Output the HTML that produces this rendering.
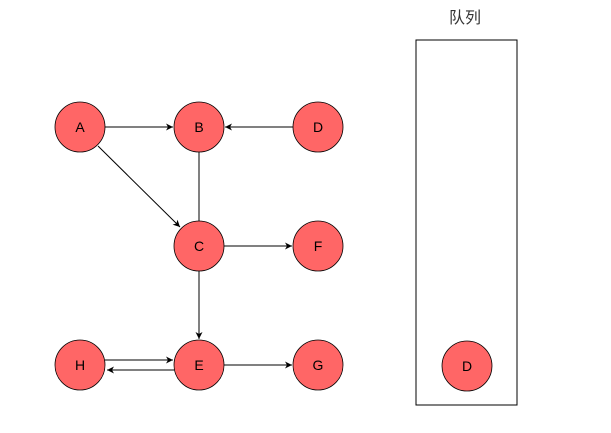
<!DOCTYPE html>
<html><head><meta charset="utf-8"><style>body{margin:0;background:#fff}</style></head><body>
<svg width="611" height="428" xmlns="http://www.w3.org/2000/svg" font-family="'Liberation Sans', sans-serif">
<defs><marker id="a" markerWidth="8" markerHeight="8" refX="7" refY="4" orient="auto" markerUnits="userSpaceOnUse"><path d="M0,0.5 L7,4 L0,7.5 L2,4 Z" fill="#000"/></marker></defs>
<g stroke="#000" stroke-width="1" fill="none">
<line x1="105" y1="127" x2="173" y2="127" marker-end="url(#a)"/>
<line x1="293" y1="127" x2="225" y2="127" marker-end="url(#a)"/>
<line x1="199" y1="152" x2="199" y2="221"/>
<line x1="98" y1="146" x2="180" y2="227" marker-end="url(#a)"/>
<line x1="224" y1="246" x2="292" y2="246" marker-end="url(#a)"/>
<line x1="199" y1="271" x2="199" y2="339" marker-end="url(#a)"/>
<line x1="105" y1="360" x2="173" y2="360" marker-end="url(#a)"/>
<line x1="174" y1="370" x2="107" y2="370" marker-end="url(#a)"/>
<line x1="224" y1="365" x2="292" y2="365" marker-end="url(#a)"/>
<rect x="416" y="40" width="101" height="365" stroke="#000"/>
</g>
<g fill="#ff6666" stroke="#000" stroke-width="0.8">
<circle cx="80" cy="127" r="25"/><circle cx="199" cy="127" r="25"/><circle cx="318" cy="127" r="25"/>
<circle cx="199" cy="246" r="25"/><circle cx="318" cy="246" r="25"/>
<circle cx="80" cy="365" r="25"/><circle cx="199" cy="365" r="25"/><circle cx="318" cy="365" r="25"/>
<circle cx="467" cy="366" r="25"/>
</g>
<g font-size="14" text-anchor="middle" fill="#000">
<text x="80" y="132">A</text><text x="199" y="132">B</text><text x="318" y="132">D</text>
<text x="199" y="251">C</text><text x="318" y="251">F</text>
<text x="80" y="370">H</text><text x="199" y="370">E</text><text x="318" y="370">G</text>
<text x="467" y="371">D</text>
</g>
<text x="465" y="23" font-size="16" text-anchor="middle" fill="#333" font-family="'Liberation Sans','Noto Sans CJK SC',sans-serif">队列</text>
</svg>
</body></html>
